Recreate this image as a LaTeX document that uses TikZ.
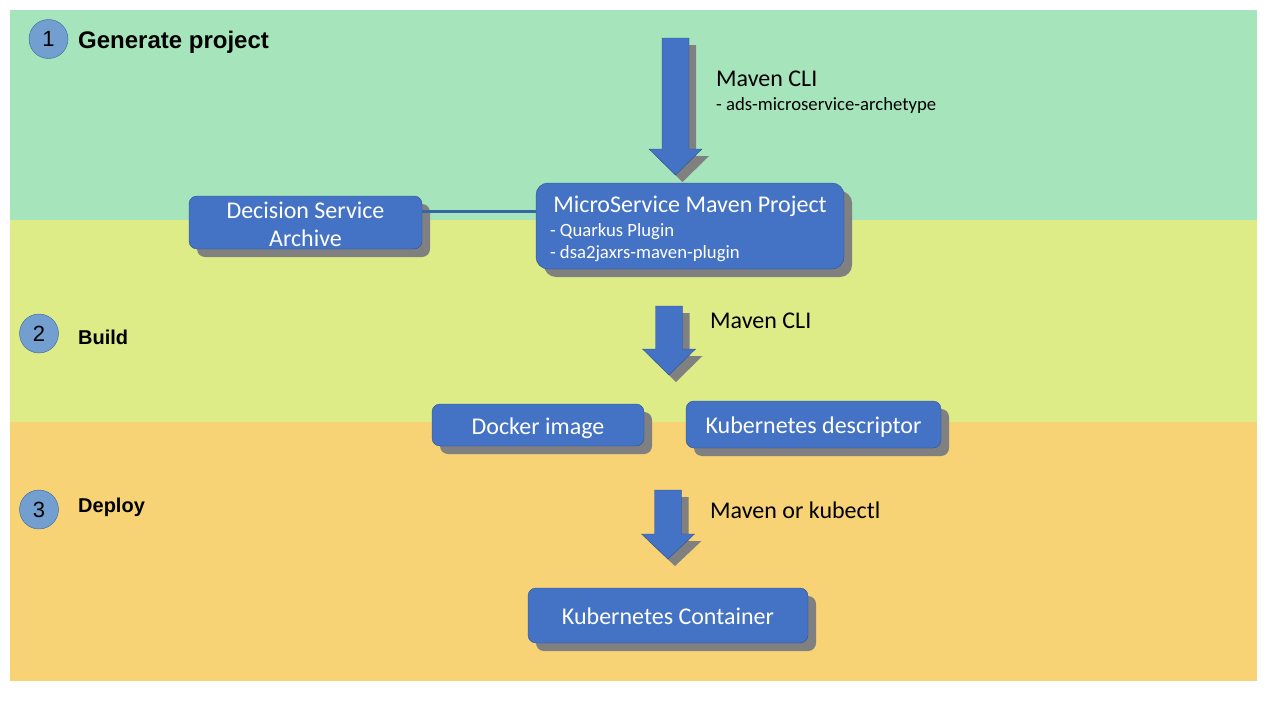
\documentclass[tikz,border=0pt]{standalone}
\usepackage{fontspec}
\setmainfont{Carlito}
\newfontfamily\headfont{Liberation Sans}
\usetikzlibrary{positioning,shadows}
\definecolor{stageGreen}{RGB}{166,228,188}
\definecolor{stageYellow}{RGB}{222,236,136}
\definecolor{stageOrange}{RGB}{247,211,118}
\definecolor{boxBlue}{RGB}{68,114,196}
\definecolor{boxBorder}{RGB}{47,82,143}
\definecolor{shadowGray}{RGB}{128,128,128}
\definecolor{stepBlue}{RGB}{114,159,207}
\definecolor{stepBorder}{RGB}{52,101,164}

\tikzset{
  bluebox/.style={draw=boxBorder, fill=boxBlue, text=white, rounded corners=8pt, inner sep=0pt,
    align=center, font=\fontsize{24}{28.5}\selectfont, text height=20pt, text depth=2pt,
    drop shadow={shadow xshift=8pt, shadow yshift=-8pt, fill=shadowGray, opacity=1}},
  boxtext/.style={text=white, inner sep=0pt, font=\fontsize{24}{28.5}\selectfont},
  boxsub/.style={text=white, inner sep=0pt, anchor=base west, font=\fontsize{18.7}{22}\selectfont},
  stepnum/.style={circle, draw=stepBorder, fill=stepBlue, minimum size=39pt, inner sep=0pt,
    font=\headfont\fontsize{22}{22}\selectfont},
  steptitle/.style={anchor=base west, inner sep=0pt, font=\headfont\bfseries\fontsize{20}{24}\selectfont},
  cmdlabel/.style={anchor=base west, inner sep=0pt, font=\fontsize{24}{28.5}\selectfont},
  cmdsub/.style={anchor=base west, inner sep=0pt, font=\fontsize{18.7}{22}\selectfont},
  link/.style={draw=stepBorder, line width=3pt},
}

\begin{document}
\begin{tikzpicture}[x=1pt, y=-1pt]
  \useasboundingbox (0,0) rectangle (1280,720);

  % Stage bands
  \fill[stageGreen] (10,10) rectangle (1257,220);
  \fill[stageYellow] (10,220) rectangle (1257,422);
  \fill[stageOrange] (10,422) rectangle (1257,681);

  % Stage headings
  \node[stepnum] (n1) at (48.5,39) {1};
  \node[steptitle, font=\headfont\bfseries\fontsize{24}{28}\selectfont] (gentitle) at (78,48) {Generate project};
  \node[stepnum] (n2) at (39,333.5) {2};
  \node[steptitle] (buildtitle) at (78,344) {Build};
  \node[stepnum] (n3) at (39,509.5) {3};
  \node[steptitle] (deploytitle) at (78,512) {Deploy};

  % Block arrows
  \foreach \cx/\ytop/\ybase/\ytip in {675.5/38/149/175, 669/306/349/375, 668/490/534/559} {
    \fill[shadowGray] (\cx-13.5+7,\ytop+7) -- (\cx+13.5+7,\ytop+7) -- (\cx+13.5+7,\ybase+7)
      -- (\cx+26.5+7,\ybase+7) -- (\cx+7,\ytip+7) -- (\cx-26.5+7,\ybase+7) -- (\cx-13.5+7,\ybase+7) -- cycle;
    \filldraw[fill=boxBlue, draw=boxBorder] (\cx-13.5,\ytop) -- (\cx+13.5,\ytop) -- (\cx+13.5,\ybase)
      -- (\cx+26.5,\ybase) -- (\cx,\ytip) -- (\cx-26.5,\ybase) -- (\cx-13.5,\ybase) -- cycle;
  }

  % Arrow labels
  \node[cmdlabel] (cli1) at (716,86) {Maven CLI};
  \node[cmdsub] (archetype) at (716,110) {- ads-microservice-archetype};
  \node[cmdlabel] (cli2) at (710,328) {Maven CLI};
  \node[cmdlabel] (kubectl) at (710,518) {Maven or kubectl};

  % Boxes
  \node[bluebox, text height=48pt, text depth=0pt, minimum width=233pt, minimum height=53pt] (dsa) at (305.5,222.5) {Decision Service\\Archive};
  \node[bluebox, rounded corners=12pt, minimum width=308pt, minimum height=86pt] (msmp) at (690,226) {};
  \node[boxtext, anchor=base] (msmptitle) at ([yshift=-29.5pt]msmp.north) {MicroService Maven Project};
  \node[boxsub] (plugin1) at ([xshift=14pt,yshift=-10.7pt]msmp.west) {- Quarkus Plugin};
  \node[boxsub] (plugin2) at ([yshift=-21.6pt]plugin1.base west) {- dsa2jaxrs-maven-plugin};

  \node[bluebox, minimum width=212pt, minimum height=42pt] (docker) at (538,425) {Docker image};
  \node[bluebox, minimum width=255pt, minimum height=47pt] (k8sdesc) at (813.5,424.5) {Kubernetes descriptor};
  \node[bluebox, minimum width=280pt, minimum height=55pt] (k8scont) at (668,615.5) {Kubernetes Container};

  % Archive link
  \draw[link] ([yshift=11.5pt]dsa.east) -- ([yshift=11.5pt]dsa.east -| msmp.west);
\end{tikzpicture}
\end{document}
